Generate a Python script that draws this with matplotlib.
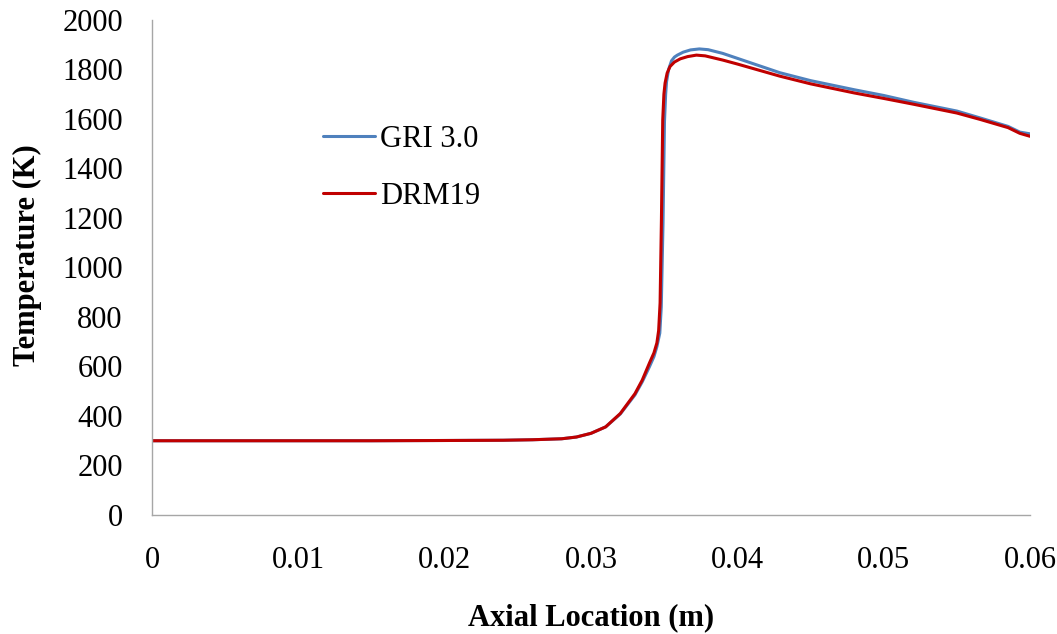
import matplotlib
matplotlib.use("Agg")
import matplotlib.pyplot as plt
import numpy as np

x_red = [0, 0.005, 0.01, 0.015, 0.02, 0.024, 0.026, 0.028, 0.029, 0.030, 0.031, 0.032, 0.033,
         0.0335, 0.034, 0.0343, 0.0345, 0.03462, 0.03472, 0.03481, 0.0349, 0.03498, 0.03506,
         0.0352, 0.0354, 0.0357, 0.0361, 0.0366, 0.0372, 0.0378, 0.039, 0.040, 0.0429, 0.045,
         0.048, 0.050, 0.052, 0.055, 0.0566, 0.0585, 0.0593, 0.060]
t_red = [300, 300, 300, 300, 301, 302, 304, 308, 315, 330, 356, 410, 490,
         545, 615, 655, 695, 745, 857, 1190, 1596, 1700, 1745,
         1785, 1812, 1830, 1843, 1852, 1858, 1855, 1838, 1822, 1773, 1742,
         1705, 1683, 1660, 1624, 1598, 1565, 1542, 1530]

x_blue = [0, 0.005, 0.01, 0.015, 0.02, 0.024, 0.026, 0.028, 0.029, 0.030, 0.031, 0.032, 0.033,
          0.0335, 0.034, 0.0343, 0.0345, 0.0347, 0.0348, 0.03492, 0.03502, 0.0351, 0.03516,
          0.0353, 0.0355, 0.0357, 0.0359, 0.0363, 0.0368, 0.0374, 0.038, 0.039, 0.040, 0.0429,
          0.045, 0.048, 0.050, 0.052, 0.055, 0.0566, 0.0585, 0.0593, 0.060]
t_blue = [300, 300, 300, 300, 301, 302, 304, 308, 315, 330, 356, 408, 485,
          538, 600, 640, 680, 735, 840, 1180, 1590, 1700, 1750,
          1800, 1835, 1850, 1858, 1870, 1879, 1883, 1880, 1865, 1845, 1787,
          1755, 1718, 1695, 1668, 1632, 1604, 1570, 1547, 1540]

fig = plt.figure(figsize=(10.57, 6.34), dpi=100)
ax = fig.add_axes([0.1438, 0.1877, 0.9745 - 0.1438, 0.9685 - 0.1877])

ax.plot(x_blue, t_blue, color="#4F81BD", lw=2.2, label="GRI 3.0",
        solid_capstyle="round", solid_joinstyle="round")
ax.plot(x_red, t_red, color="#C00000", lw=2.2, label="DRM19",
        solid_capstyle="round", solid_joinstyle="round")

ax.set_xlim(0, 0.06)
ax.set_ylim(0, 2000)
ax.set_xticks([0, 0.01, 0.02, 0.03, 0.04, 0.05, 0.06])
ax.set_xticklabels(["0", "0.01", "0.02", "0.03", "0.04", "0.05", "0.06"])
ax.set_yticks(range(0, 2001, 200))

font = "Liberation Serif"
fs = 22
for lab in ax.get_xticklabels() + ax.get_yticklabels():
    lab.set_fontfamily(font)
    lab.set_fontsize(fs)
ax.tick_params(axis="y", length=0, pad=21)
ax.tick_params(axis="x", length=0, pad=22)

for s in ["top", "right"]:
    ax.spines[s].set_visible(False)
for s in ["left", "bottom"]:
    ax.spines[s].set_color("#A6A6A6")
    ax.spines[s].set_linewidth(1.0)

ax.set_xlabel("Axial Location (m)", fontfamily=font, fontsize=fs, fontweight="bold",
              va="center", ha="center")
ax.xaxis.set_label_coords(0.5, -0.207)
ax.set_ylabel("Temperature (K)", fontfamily=font, fontsize=fs, fontweight="bold",
              va="center", ha="center")
ax.yaxis.set_label_coords(-0.142, 0.525)

leg = ax.legend(loc="upper left", bbox_to_anchor=(0.1948, 0.788), frameon=False,
                prop={"family": font, "size": fs}, handlelength=1.7, handletextpad=0.16,
                labelspacing=0.92, borderpad=0, borderaxespad=0)

fig.savefig("out.png", dpi=100)
